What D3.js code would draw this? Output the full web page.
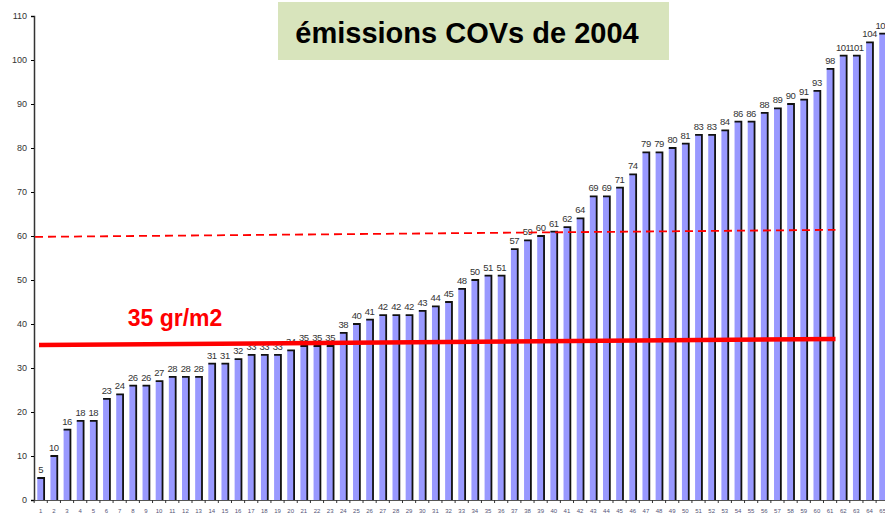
<!DOCTYPE html>
<html>
<head>
<meta charset="utf-8">
<script src="https://cdn.jsdelivr.net/npm/d3@7"></script>
<style>
  body { margin: 0; background: #fff; }
  svg { display: block; font-family: "Liberation Sans", Arial, sans-serif; }
</style>
</head>
<body>
<div id="chart"></div>
<script>
// communes, ranked by emissions
var communes = d3.range(1, 66);
var emissions = [5, 10, 16, 18, 18, 23, 24, 26, 26, 27, 28, 28, 28, 31, 31, 32, 33, 33, 33, 34,
                 35, 35, 35, 38, 40, 41, 42, 42, 42, 43, 44, 45, 48, 50, 51, 51, 57, 59, 60, 61,
                 62, 64, 69, 69, 71, 74, 79, 79, 80, 81, 83, 83, 84, 86, 86, 88, 89, 90, 91, 93,
                 98, 101, 101, 104, 106];
var yTicks = [0, 10, 20, 30, 40, 50, 60, 70, 80, 90, 100, 110];

// reference lines (value at start, value at end, last commune covered)
var limitLine = [35.2, 36.6];
var dashLine = [59.8, 61.4];
var lineEnd = 61;

var W = 885, H = 518;
var m = {t: 16, l: 34, b: 18};
var step = 13.16;

var svg = d3.select("#chart").append("svg")
    .attr("width", W).attr("height", H);

var x = d3.scaleBand()
    .domain(communes)
    .range([m.l, m.l + communes.length * step])
    .paddingInner(0.48).paddingOuter(0.25);

var y = d3.scaleLinear().domain([0, 110]).range([H - m.b, m.t]);

// bars
var bars = svg.selectAll(".bar").data(emissions).enter()
    .append("g").attr("class", "bar");

bars.append("rect")
    .attr("x", function(d, i) { return x(communes[i]); })
    .attr("y", function(d) { return y(d); })
    .attr("width", x.bandwidth())
    .attr("height", function(d) { return y(0) - y(d); })
    .attr("fill", "#9999ff");

bars.append("path")
    .attr("d", function(d, i) {
        var x0 = x(communes[i]), x1 = x0 + x.bandwidth();
        return "M" + x0 + "," + y(d) + "H" + x1 + "V" + y(0);
    })
    .attr("fill", "none")
    .attr("stroke", "#111")
    .attr("stroke-width", 1.8);

bars.append("text")
    .text(function(d) { return d; })
    .attr("x", function(d, i) { return x(communes[i]) + x.bandwidth() / 2; })
    .attr("y", function(d) { return y(d) - 5; })
    .attr("text-anchor", "middle")
    .style("font-size", "9.5px")
    .style("letter-spacing", "-0.5px")
    .attr("fill", "#333");

// axes
var yAxis = svg.append("g")
    .attr("transform", "translate(" + m.l + ",0)")
    .call(d3.axisLeft(y).tickValues(yTicks).tickSize(3).tickPadding(4));
yAxis.select(".domain").attr("stroke", "#333").attr("stroke-width", 1.5);
yAxis.selectAll("text").style("font-size", "9px").attr("fill", "#333");

var xAxis = svg.append("g")
    .attr("transform", "translate(0," + y(0) + ")")
    .call(d3.axisBottom(x).tickSize(0).tickPadding(9));
xAxis.select(".domain").attr("stroke", "#555");
xAxis.selectAll("text").style("font-size", "6px").attr("fill", "#557");
xAxis.selectAll(".sep").data(communes).enter().append("line")
    .attr("x1", function(d) { return x(d) - x.step() * 0.24; })
    .attr("x2", function(d) { return x(d) - x.step() * 0.24; })
    .attr("y1", 0).attr("y2", 3)
    .attr("stroke", "#333");

// reference lines
var lineX0 = x(1) - x.step() * 0.25;
var lineX1 = x(lineEnd) + x.bandwidth() + 2;

svg.append("line")
    .attr("x1", m.l + 1).attr("x2", lineX1)
    .attr("y1", y(dashLine[0])).attr("y2", y(dashLine[1]))
    .attr("stroke", "#ff0000").attr("stroke-width", 1.8)
    .attr("stroke-dasharray", "8,5");

svg.append("line")
    .attr("x1", lineX0 + 5).attr("x2", lineX1)
    .attr("y1", y(limitLine[0])).attr("y2", y(limitLine[1]))
    .attr("stroke", "#ff0000").attr("stroke-width", 4.5);

svg.append("text")
    .text("35 gr/m2")
    .attr("x", 175).attr("y", 326)
    .attr("text-anchor", "middle")
    .style("font-size", "23px").style("font-weight", "bold")
    .attr("fill", "#ff0000");

// title box
svg.append("rect")
    .attr("x", 278).attr("y", 2).attr("width", 391).attr("height", 58)
    .attr("fill", "#d8e4bc");
svg.append("text")
    .text("émissions COVs de 2004")
    .attr("x", 467).attr("y", 43)
    .attr("text-anchor", "middle")
    .style("font-size", "29px").style("font-weight", "bold")
    .attr("fill", "#000");
</script>
</body>
</html>
